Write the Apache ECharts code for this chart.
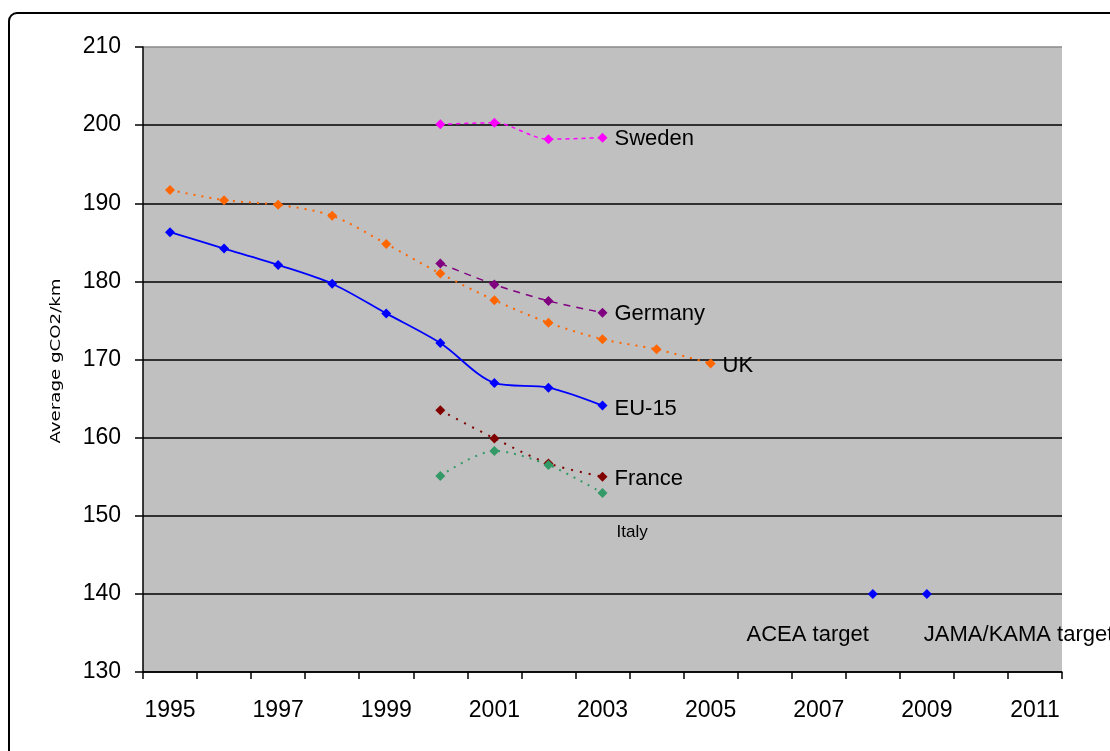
<!DOCTYPE html>
<html>
<head>
<meta charset="utf-8">
<script src="https://cdn.jsdelivr.net/npm/echarts@6/dist/echarts.min.js"></script>
<style>
html,body{margin:0;padding:0;background:#fff;}
#c{width:1110px;height:751px;}
</style>
</head>
<body>
<div id="c"></div>
<script>
// ---- data ----
const years = ['1995','1996','1997','1998','1999','2000','2001','2002','2003','2004','2005','2006','2007','2008','2009','2010','2011'];
const eu15    = [186.3,184.2,182.1,179.7,175.9,172.1,167.0,166.4,164.1];
const uk      = [191.7,190.4,189.8,188.4,184.8,181.0,177.6,174.7,172.6,171.3,169.5];
const germany = [null,null,null,null,null,182.3,179.6,177.5,176.0];
const sweden  = [null,null,null,null,null,200.1,200.3,198.2,198.4];
const france  = [null,null,null,null,null,163.5,159.9,156.7,155.0];
const italy   = [null,null,null,null,null,155.1,158.3,156.5,152.9];
const targetYears  = ['2008','2009'];
const targetValues = [140,140];
const targetNames  = ['ACEA target','JAMA/KAMA target'];
const yMin = 130, yMax = 210, yStep = 10;
const yTitle = 'Average gCO2/km';

const FONT = '"Liberation Sans", Arial, sans-serif';

function withEndLabel(values, name, labelCfg){
  let last = -1;
  values.forEach((v,i)=>{ if(v!==null) last=i; });
  return values.map((v,i)=> i===last ? {value:v, label:Object.assign({
      show:true, formatter:name, color:'#000', fontFamily:FONT, fontSize:22,
      position:'right', distance:7
    }, labelCfg||{})} : v);
}

function lineSeries(name, values, color, type, width, labelCfg){
  return {
    name, type:'line', data:withEndLabel(values, name, labelCfg),
    smooth:0.3, symbol:'diamond', symbolSize:10, showSymbol:true,
    itemStyle:{color}, lineStyle:{color, width, type},
    label:{show:false}, z:3
  };
}

const chart = echarts.init(document.getElementById('c'), null, {renderer:'canvas'});

const targetData = targetYears.map((y,i)=>({
  value:[y, targetValues[i]],
  label:{
    show:true, formatter:targetNames[i], color:'#000', opacity:1, fontFamily:FONT, fontSize:22,
    position: i===0 ? [1, 46] : [2, 46],
    align: i===0 ? 'right' : 'left', verticalAlign:'middle'
  }
}));

const splitColors = [];
for (let v=yMin; v<=yMax; v+=yStep) splitColors.push(v===yMax ? '#8a8a8a' : '#000');

chart.setOption({
  animation:false,
  backgroundColor:'#fff',
  grid:{left:143, right:48, top:47, bottom:79, show:true, backgroundColor:'#c0c0c0', borderWidth:0},
  xAxis:{
    type:'category', data:years, boundaryGap:true,
    axisLine:{lineStyle:{color:'#000', width:1.5}},
    axisTick:{show:true, length:7, interval:0, lineStyle:{color:'#000', width:1.5}},
    axisLabel:{interval:1, color:'#000', fontFamily:FONT, fontSize:23, margin:27},
    splitLine:{show:false}
  },
  yAxis:{
    type:'value', min:yMin, max:yMax, interval:yStep,
    axisLine:{show:true, lineStyle:{color:'#000', width:1.5}},
    axisTick:{show:true, length:8, lineStyle:{color:'#000', width:1.5}},
    axisLabel:{color:'#000', fontFamily:FONT, fontSize:23, margin:22},
    splitLine:{show:true, lineStyle:{color:splitColors, width:1.5}}
  },
  graphic:[{
    type:'rect', shape:{x:9, y:13, width:1200, height:800, r:8},
    style:{fill:'none', stroke:'#000', lineWidth:2}, silent:true, z:-10
  },{
    type:'text', x:56, y:361, rotation:Math.PI/2, scaleX:1.3, scaleY:1,
    style:{text:yTitle, fill:'#000', font:'14px "DejaVu Sans", sans-serif', align:'center', verticalAlign:'middle'},
    silent:true
  }],
  series:[
    lineSeries('Sweden', sweden, '#ff00ff', [4,4], 1.5, {offset:[0,1]}),
    lineSeries('UK', uk, '#ff6600', [2,6], 2, {offset:[0,3]}),
    lineSeries('Germany', germany, '#800080', [7,6], 1.5, {offset:[0,1]}),
    lineSeries('EU-15', eu15, '#0000ff', 'solid', 1.8, {offset:[0,3]}),
    lineSeries('France', france, '#800000', [2,7], 2, {offset:[0,2]}),
    lineSeries('Italy', italy, '#339966', [2,6], 2, {fontSize:17, offset:[2,39]}),
    {
      name:'Targets', type:'scatter', data:targetData,
      symbol:'diamond', symbolSize:10, itemStyle:{color:'#0000ff', opacity:1}, z:3
    }
  ]
});
</script>
</body>
</html>
